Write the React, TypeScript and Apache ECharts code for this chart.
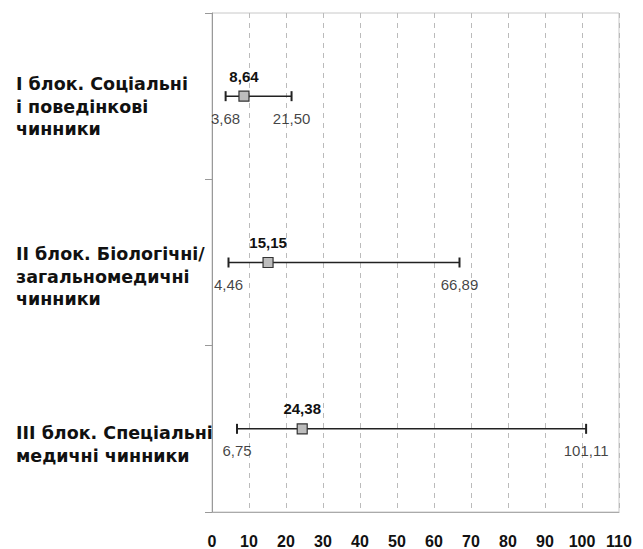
import React, { useEffect, useRef } from "react";
import * as echarts from "echarts";

const categories = [
  "I блок. Соціальні\nі поведінкові\nчинники",
  "II блок. Біологічні/\nзагальномедичні\nчинники",
  "III блок. Спеціальні\nмедичні чинники",
];
const means = [8.64, 15.15, 24.38];
const lows = [3.68, 4.46, 6.75];
const highs = [21.5, 66.89, 101.11];
const xTicks = [0, 10, 20, 30, 40, 50, 60, 70, 80, 90, 100, 110];

const fmt = (v: number) => v.toFixed(2).replace(".", ",");

const labelTops = [73, 243, 422];

export default function App() {
  const ref = useRef<HTMLDivElement>(null);
  useEffect(() => {
    if (!ref.current) return;
    const chart = echarts.init(ref.current, undefined, { renderer: "svg" });
    const font = "'Liberation Sans', Arial, sans-serif";
    const catFont = "'DejaVu Sans', sans-serif";
    chart.setOption({
      animation: false,
      backgroundColor: "#fff",
      grid: {
        left: 212,
        right: 24,
        top: 13,
        bottom: 37,
        show: true,
        borderColor: "#c8c8c8",
        borderWidth: 1,
      },
      xAxis: {
        type: "value",
        min: xTicks[0],
        max: xTicks[xTicks.length - 1],
        interval: 10,
        axisLine: { show: true, lineStyle: { color: "#aaa" } },
        axisTick: { show: false },
        axisLabel: {
          margin: 21,
          color: "#111",
          fontFamily: font,
          fontWeight: "bold",
          fontSize: 16,
        },
        splitLine: {
          show: true,
          lineStyle: { color: "#bbb", type: [5, 5], width: 1 },
        },
      },
      yAxis: {
        type: "category",
        data: categories,
        inverse: true,
        boundaryGap: true,
        axisLine: { show: true, lineStyle: { color: "#999" } },
        axisTick: { show: true, length: 7, lineStyle: { color: "#999" } },
        axisLabel: { show: false },
        splitLine: { show: false },
      },
      graphic: categories.map((c, i) => ({
        type: "text",
        left: 16,
        top: labelTops[i],
        style: {
          text: c,
          font: `bold 17.5px ${catFont}`,
          lineHeight: 22.5,
          fill: "#111",
        },
      })),
      series: [
        {
          type: "custom",
          data: lows.map((l, i) => [l, highs[i], i]),
          encode: { x: [0, 1], y: 2 },
          renderItem: (params: any, api: any) => {
            const p1 = api.coord([api.value(0), api.value(2)]);
            const p2 = api.coord([api.value(1), api.value(2)]);
            const h = 5;
            const st = { stroke: "#222", lineWidth: 1.5 };
            return {
              type: "group",
              children: [
                { type: "line", shape: { x1: p1[0], y1: p1[1], x2: p2[0], y2: p2[1] }, style: st },
                { type: "line", shape: { x1: p1[0], y1: p1[1] - h, x2: p1[0], y2: p1[1] + h }, style: { stroke: "#222", lineWidth: 2 } },
                { type: "line", shape: { x1: p2[0], y1: p2[1] - h, x2: p2[0], y2: p2[1] + h }, style: { stroke: "#222", lineWidth: 2 } },
              ],
            };
          },
          z: 2,
        },
        {
          type: "scatter",
          data: means.map((m, i) => [m, i]),
          symbol: "rect",
          symbolSize: 10,
          itemStyle: { color: "#bdbdbd", borderColor: "#333", borderWidth: 1.2, opacity: 1 },
          label: {
            show: true,
            position: "top",
            distance: 7,
            formatter: (p: any) => fmt(p.value[0]),
            color: "#111",
            fontFamily: font,
            fontWeight: "bold",
            fontSize: 15,
          },
          z: 3,
        },
        {
          type: "scatter",
          data: [
            ...lows.map((l, i) => [l, i]),
            ...highs.map((h, i) => [h, i]),
          ],
          symbol: "circle",
          symbolSize: 1,
          itemStyle: { color: "rgba(0,0,0,0)" },
          label: {
            show: true,
            position: "bottom",
            distance: 14,
            formatter: (p: any) => fmt(p.value[0]),
            color: "#111",
            fontFamily: font,
            fontSize: 15,
          },
          z: 3,
        },
      ],
    });
    return () => chart.dispose();
  }, []);
  return (
    <div
      ref={ref}
      style={{ position: "fixed", left: 0, top: 0, width: 643, height: 549 }}
    />
  );
}
